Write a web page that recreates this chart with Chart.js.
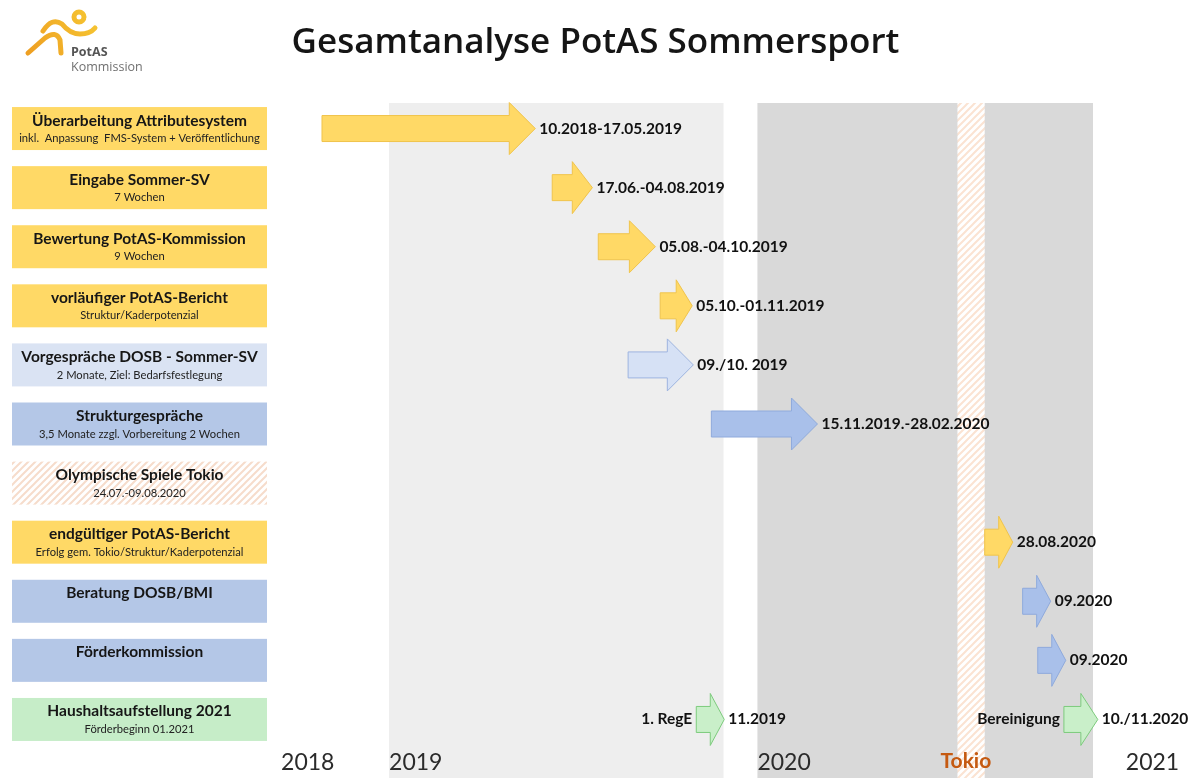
<!DOCTYPE html>
<html>
<head>
<meta charset="utf-8">
<script src="https://cdn.jsdelivr.net/npm/chart.js@4.4.1/dist/chart.umd.min.js"></script>
<style>
  html, body { margin: 0; padding: 0; background: #fff; }
</style>
</head>
<body>
<canvas id="chart" width="1193" height="778"></canvas>
<script>
/* ================= DATA ================= */

const taskTitles = [
  "Überarbeitung Attributesystem",
  "Eingabe Sommer-SV",
  "Bewertung PotAS-Kommission",
  "vorläufiger PotAS-Bericht",
  "Vorgespräche DOSB - Sommer-SV",
  "Strukturgespräche",
  "Olympische Spiele Tokio",
  "endgültiger PotAS-Bericht",
  "Beratung DOSB/BMI",
  "Förderkommission",
  "Haushaltsaufstellung 2021"
];

const taskNotes = [
  "inkl.  Anpassung  FMS-System + Veröffentlichung",
  "7 Wochen",
  "9 Wochen",
  "Struktur/Kaderpotenzial",
  "2 Monate, Ziel: Bedarfsfestlegung",
  "3,5 Monate zzgl. Vorbereitung 2 Wochen",
  "24.07.-09.08.2020",
  "Erfolg gem. Tokio/Struktur/Kaderpotenzial",
  "",
  "",
  "Förderbeginn 01.2021"
];

const taskGroup = [
  "potas", "potas", "potas", "potas",
  "vorgespraech", "dosb", "olympia",
  "potas", "dosb", "dosb", "haushalt"
];

// time in years (decimal)
const taskStart = [2018.818, 2019.443, 2019.568, 2019.736, 2019.649, 2019.875, null, 2020.617, 2020.720, 2020.761, 2019.834];
const taskEnd   = [2019.397, 2019.552, 2019.723, 2019.823, 2019.826, 2020.163, null, 2020.693, 2020.796, 2020.837, 2019.910];
const taskDates = [
  "10.2018-17.05.2019", "17.06.-04.08.2019", "05.08.-04.10.2019", "05.10.-01.11.2019",
  "09./10. 2019", "15.11.2019.-28.02.2020", "", "28.08.2020", "09.2020", "09.2020", "11.2019"
];
const taskLead = ["", "", "", "", "", "", "", "", "", "", "1. RegE"];

const followStart = [null, null, null, null, null, null, null, null, null, null, 2020.832];
const followEnd   = [null, null, null, null, null, null, null, null, null, null, 2020.924];
const followDates = ["", "", "", "", "", "", "", "", "", "", "10./11.2020"];
const followLead  = ["", "", "", "", "", "", "", "", "", "", "Bereinigung"];

const yearBandStart = [2019, 2020];
const yearBandEnd = [2019.908, 2020.911];
const olympicStart = 2020.543;
const olympicEnd = 2020.617;

const tickValues = [2018.707, 2019, 2020, 2020.497, 2021];
const tickLabels = ["2018", "2019", "2020", "Tokio", "2021"];

/* ================= STYLES ================= */

const palette = {
  potas:        { box: "#FFD966", arrow: "#FFD966", edge: "#F0C44C" },
  vorgespraech: { box: "#DAE3F3", arrow: "#D6E1F5", edge: "#9DB4E0" },
  dosb:         { box: "#B4C7E7", arrow: "#A9C0EA", edge: "#8FAADC" },
  olympia:      { box: null,      arrow: null,      edge: null },
  haushalt:     { box: "#C6EDC8", arrow: "#C9EFC9", edge: "#7DCB7D" }
};
const bandShade = ["#EEEEEE", "#D9D9D9"];

function hatch(color, size, width) {
  const t = document.createElement("canvas");
  t.width = size; t.height = size;
  const g = t.getContext("2d");
  g.fillStyle = "#fff";
  g.fillRect(0, 0, size, size);
  g.strokeStyle = color;
  g.lineWidth = width;
  g.beginPath();
  g.moveTo(0, size); g.lineTo(size, 0);
  g.moveTo(-size / 2, size / 2); g.lineTo(size / 2, -size / 2);
  g.moveTo(size / 2, size * 1.5); g.lineTo(size * 1.5, size / 2);
  g.stroke();
  return g.createPattern(t, "repeat");
}

function drawArrow(c, x0, x1, yc, h, fill, stroke) {
  const w = x1 - x0;
  const head = 0.5 * Math.min(w, h);
  const body = h * 0.5;
  c.beginPath();
  c.moveTo(x0, yc - body / 2);
  c.lineTo(x1 - head, yc - body / 2);
  c.lineTo(x1 - head, yc - h / 2);
  c.lineTo(x1, yc);
  c.lineTo(x1 - head, yc + h / 2);
  c.lineTo(x1 - head, yc + body / 2);
  c.lineTo(x0, yc + body / 2);
  c.closePath();
  c.fillStyle = fill;
  c.fill();
  c.lineWidth = 1;
  c.strokeStyle = stroke;
  c.stroke();
}

/* ================= PLUGINS ================= */

const bandsPlugin = {
  id: "bands",
  beforeDraw(chart) {
    const { ctx, chartArea, scales: { x } } = chart;
    const top = chartArea.top + 4, bottom = chart.height;
    ctx.save();
    yearBandStart.forEach((s, i) => {
      const x0 = x.getPixelForValue(s);
      const x1 = x.getPixelForValue(yearBandEnd[i]);
      ctx.fillStyle = bandShade[i];
      ctx.fillRect(x0, top, x1 - x0, bottom - top);
    });
    const o0 = x.getPixelForValue(olympicStart);
    const o1 = x.getPixelForValue(olympicEnd);
    ctx.fillStyle = hatch("#FBE3D2", 7, 2);
    ctx.fillRect(o0, top, o1 - o0, bottom - top);
    ctx.restore();
  }
};

const rowLabelPlugin = {
  id: "rowLabels",
  afterDraw(chart) {
    const { ctx, scales: { y } } = chart;
    ctx.save();
    taskTitles.forEach((title, i) => {
      const yc = y.getPixelForValue(i);
      const g = palette[taskGroup[i]];
      ctx.fillStyle = g.box || hatch("#F6DCCB", 7, 2);
      ctx.fillRect(12, yc - 21.5, 255, 43);
      ctx.textAlign = "center";
      ctx.textBaseline = "middle";
      ctx.fillStyle = "#161616";
      ctx.font = "bold 15.5px Lato";
      ctx.fillText(title, 139.5, yc - 8);
      if (taskNotes[i]) {
        ctx.font = "11.2px Lato";
        ctx.fillStyle = "#222";
        ctx.fillText(taskNotes[i], 139.5, yc + 10);
      }
    });
    ctx.restore();
  }
};

const arrowPlugin = {
  id: "arrows",
  afterDatasetsDraw(chart) {
    const { ctx } = chart;
    ctx.save();
    chart.data.datasets.forEach((ds, di) => {
      const meta = chart.getDatasetMeta(di);
      meta.data.forEach((el, i) => {
        if (!ds.data[i]) return;
        const { x, y, base, height } = el.getProps(["x", "y", "base", "height"], true);
        const g = palette[taskGroup[i]];
        const x0 = Math.min(x, base), x1 = Math.max(x, base);
        drawArrow(ctx, x0, x1, y, height, g.arrow, g.edge);
        ctx.font = "bold 15.5px Lato";
        ctx.fillStyle = "#111";
        ctx.textBaseline = "middle";
        if (ds.dates[i]) {
          ctx.textAlign = "left";
          ctx.fillText(ds.dates[i], x1 + 4, y);
        }
        if (ds.lead[i]) {
          ctx.textAlign = "right";
          ctx.fillText(ds.lead[i], x0 - 4, y);
        }
      });
    });
    ctx.restore();
  }
};

const logoPlugin = {
  id: "logo",
  afterDraw(chart) {
    const c = chart.ctx;
    c.save();
    const grad = c.createLinearGradient(28, 54, 96, 12);
    grad.addColorStop(0, "#EE9F22");
    grad.addColorStop(1, "#F6C632");
    c.strokeStyle = grad;
    c.lineWidth = 5;
    c.lineCap = "round";
    c.lineJoin = "round";
    c.beginPath();
    c.arc(79, 17, 5, 0, Math.PI * 2);
    c.stroke();
    c.beginPath();
    c.moveTo(43, 31);
    c.quadraticCurveTo(52, 17, 62, 24);
    c.quadraticCurveTo(70, 34, 80, 34);
    c.quadraticCurveTo(90, 34, 95, 28);
    c.stroke();
    c.beginPath();
    c.moveTo(28, 53);
    c.lineTo(45, 38);
    c.quadraticCurveTo(56, 30, 60, 40);
    c.lineTo(61, 53);
    c.stroke();
    c.textAlign = "left";
    c.textBaseline = "alphabetic";
    c.fillStyle = "#555";
    c.font = "bold 12.5px 'Open Sans'";
    c.fillText("PotAS", 71, 56);
    c.fillStyle = "#707070";
    c.font = "12.5px 'Open Sans'";
    c.fillText("Kommission", 71, 71);
    c.restore();
  }
};

/* ================= CHART ================= */

new Chart(document.getElementById("chart"), {
  type: "bar",
  data: {
    labels: taskTitles,
    datasets: [
      {
        data: taskStart.map((s, i) => (s === null ? null : [s, taskEnd[i]])),
        dates: taskDates,
        lead: taskLead,
        backgroundColor: "rgba(0,0,0,0)",
        borderWidth: 0,
        barThickness: 52,
        grouped: false
      },
      {
        data: followStart.map((s, i) => (s === null ? null : [s, followEnd[i]])),
        dates: followDates,
        lead: followLead,
        backgroundColor: "rgba(0,0,0,0)",
        borderWidth: 0,
        barThickness: 52,
        grouped: false
      }
    ]
  },
  options: {
    responsive: false,
    animation: false,
    indexAxis: "y",
    layout: { padding: { left: 0, right: 2, top: 0, bottom: 0 } },
    plugins: {
      legend: { display: false },
      tooltip: { enabled: false },
      title: {
        display: true,
        text: "Gesamtanalyse PotAS Sommersport",
        color: "#151515",
        font: { family: "Open Sans", size: 35, weight: "600" },
        padding: { top: 22, bottom: 35 }
      }
    },
    scales: {
      x: {
        type: "linear",
        min: 2018.704,
        max: 2021.177,
        grid: { display: false, drawTicks: false },
        border: { display: false },
        afterBuildTicks: (scale) => {
          scale.ticks = tickValues.map((v) => ({ value: v }));
        },
        afterFit: (scale) => { scale.height = 29; },
        ticks: {
          autoSkip: false,
          maxRotation: 0,
          align: "start",
          padding: 0,
          callback: (value, index) => tickLabels[index],
          color: (ctx) => (tickLabels[ctx.index] === "Tokio" ? "#C55A11" : "#2b2b2b"),
          font: (ctx) =>
            tickLabels[ctx.index] === "Tokio"
              ? { family: "Lato", size: 21, weight: "bold" }
              : { family: "Lato", size: 23, weight: "normal" }
        }
      },
      y: {
        type: "category",
        grid: { display: false },
        border: { display: false },
        ticks: { display: false },
        afterFit: (scale) => { scale.width = 280; }
      }
    }
  },
  plugins: [bandsPlugin, arrowPlugin, rowLabelPlugin, logoPlugin]
});
</script>
</body>
</html>
